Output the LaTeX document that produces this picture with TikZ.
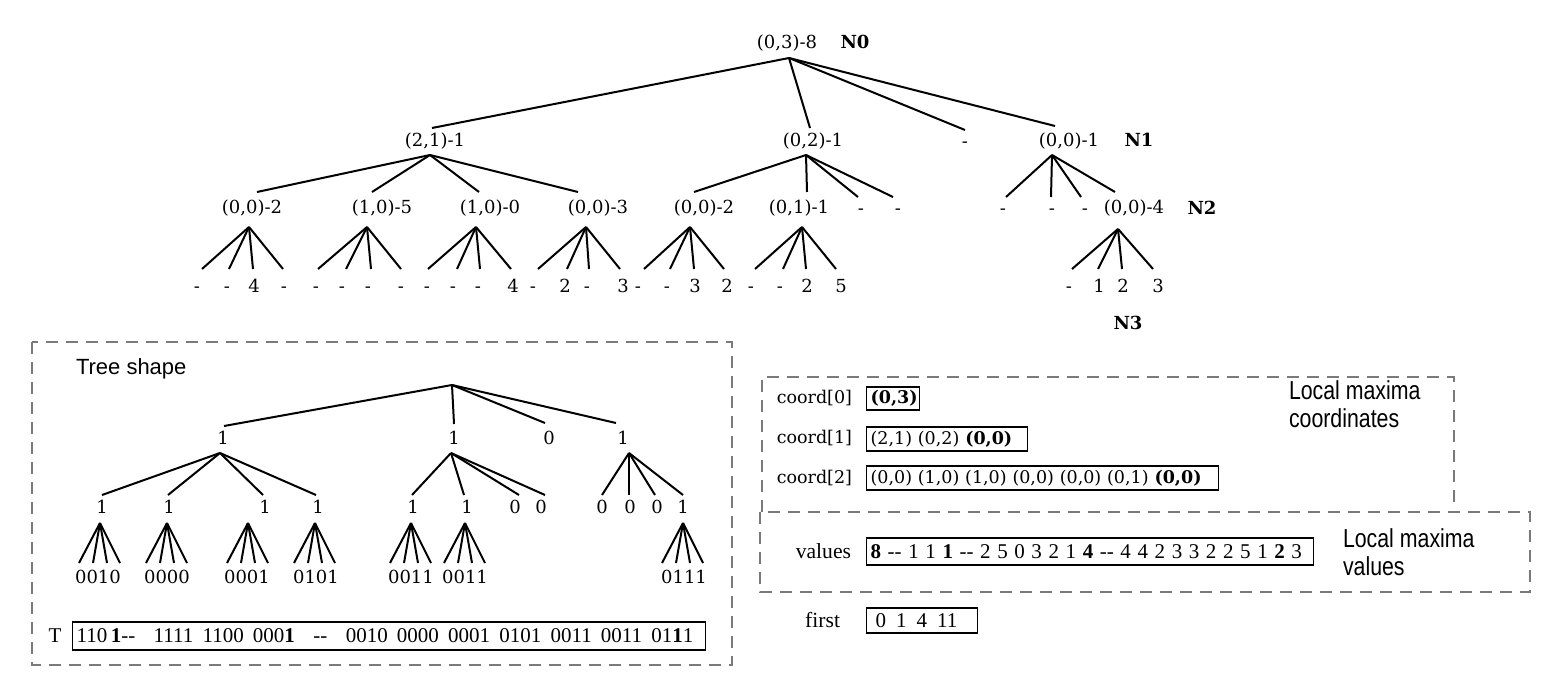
\documentclass[tikz,border=0pt]{standalone}
\usepackage{fontspec}
\setmainfont{DejaVu Serif}
\newfontfamily\tms{Liberation Serif}
\newfontfamily\sns{Liberation Sans}
\newfontfamily\snsn[FakeStretch=0.82]{Liberation Sans}
\definecolor{dashgray}{HTML}{7A7A7A}
\begin{document}
\begin{tikzpicture}[x=0.5pt,y=-0.5pt,line width=1pt,
  lbl/.style={font=\fontsize{9}{10}\selectfont,inner sep=0pt,anchor=base},
  nlbl/.style={font=\fontsize{9}{10}\selectfont\bfseries,inner sep=0pt,anchor=base},
  dbox/.style={draw=dashgray,dash pattern=on 6pt off 4pt,line width=0.7pt},
  sbox/.style={draw,line width=0.6pt,inner xsep=2pt,inner ysep=0pt,anchor=west,align=left},
  rlbl/.style={font=\fontsize{8.75}{10}\selectfont,inner sep=0pt,anchor=east},
  ttl/.style={font=\sns\fontsize{11}{14}\selectfont,inner sep=0pt,anchor=west,align=left},
  ttn/.style={font=\snsn\fontsize{13}{14}\selectfont,inner sep=0pt,anchor=west,align=left}]
\useasboundingbox (0,0) rectangle (1566,690);

%% ---------------- top tree ----------------
\node[lbl] (R) at (787,49) {(0,3)-8};
\node[nlbl] (N0) at (855,49) {N0};
\coordinate (Ra) at (789,58);

\node[lbl] (A) at (435,146) {(2,1)-1};
\node[lbl] (B) at (813,146) {(0,2)-1};
\node[lbl] (C) at (965,147) {-};
\node[lbl] (D) at (1069,146) {(0,0)-1};
\node[nlbl] (N1) at (1139,146) {N1};
\coordinate (At) at (432,128);
\coordinate (Bt) at (810,128);
\coordinate (Ct) at (965,130);
\coordinate (Dt) at (1055,126);
\foreach \c in {A,B,C,D} \draw (Ra) -- (\c t);
\coordinate (Aa) at (430,155);
\coordinate (Ba) at (806,155);
\coordinate (Da) at (1052,155);

% level 2
\foreach \n/\lx/\tx/\ax/\t in {A1/252/257/249/{(0,0)-2},A2/382/372/367/{(1,0)-5},A3/490/479/476/{(1,0)-0},A4/598/578/586/{(0,0)-3}}{
  \node[lbl] (\n) at (\lx,213) {\t};
  \coordinate (\n t) at (\tx,192);
  \coordinate (\n a) at (\ax,227);
  \draw (Aa) -- (\n t);
}
\foreach \n/\lx/\tx/\ax/\t in {B1/704/694/690/{(0,0)-2},B2/799/807/802/{(0,1)-1}}{
  \node[lbl] (\n) at (\lx,213) {\t};
  \coordinate (\n t) at (\tx,192);
  \coordinate (\n a) at (\ax,227);
  \draw (Ba) -- (\n t);
}
\foreach \n/\lx/\tx in {B3/861/858,B4/898/893}{
  \node[lbl] (\n) at (\lx,214) {-};
  \coordinate (\n t) at (\tx,197);
  \draw (Ba) -- (\n t);
}
\foreach \n/\lx/\tx in {D1/1003/1006,D2/1052/1051,D3/1085/1081}{
  \node[lbl] (\n) at (\lx,214) {-};
  \coordinate (\n t) at (\tx,197);
  \draw (Da) -- (\n t);
}
\node[lbl] (D4) at (1134,213) {(0,0)-4};
\coordinate (D4t) at (1115,192);
\coordinate (D4a) at (1118,229);
\draw (Da) -- (D4t);
\node[nlbl] (N2) at (1202,214) {N2};

% leaves
\foreach \p/\la/\lb/\lc/\ld/\ea/\eb/\ec/\ed/\ta/\tb/\tc/\td in {
  A1/197/227/254/284/202/229/253/283/-/-/4/-,
  A2/316/342/368/401/318/346/371/401/-/-/-/-,
  A3/427/453/478/513/428/457/480/511/-/-/-/4,
  A4/533/565/587/623/538/567/589/620/-/2/-/3,
  B1/638/667/695/727/644/670/694/724/-/-/3/2,
  B2/751/780/807/841/755/783/806/836/-/-/2/5,
  D4/1069/1099/1123/1158/1072/1098/1122/1153/-/1/2/3}{
  \node[lbl] (\p l1) at (\la,292) {\ta};
  \node[lbl] (\p l2) at (\lb,292) {\tb};
  \node[lbl] (\p l3) at (\lc,292) {\tc};
  \node[lbl] (\p l4) at (\ld,292) {\td};
  \coordinate (\p e1) at (\ea,269);
  \coordinate (\p e2) at (\eb,269);
  \coordinate (\p e3) at (\ec,269);
  \coordinate (\p e4) at (\ed,269);
  \foreach \k in {1,2,3,4} \draw (\p a) -- (\p e\k);
}
\node[nlbl] (N3) at (1128,329) {N3};

%% ---------------- tree shape box ----------------
\draw[dbox] (32,342) rectangle (732,665);
\node[ttl] (TS) at (75,369) {Tree shape};
\coordinate (Sa) at (452,385);
\foreach \n/\lx/\tx/\ty/\t in {S1/223/224/426/1,S2/454/454/424/1,S3/549/545/423/0,S4/623/616/423/1}{
  \node[lbl] (\n) at (\lx,444) {\t};
  \coordinate (\n t) at (\tx,\ty);
  \draw (Sa) -- (\n t);
}
\coordinate (S1a) at (220,453);
\coordinate (S2a) at (451,453);
\coordinate (S4a) at (629,453);
\foreach \pa/\n/\lx/\tx/\t in {S1/S11/102/102/1,S1/S12/169/168/1,S1/S13/265/263/1,S1/S14/318/316/1,
  S2/S21/413/412/1,S2/S22/467/464/1,S2/S23/515/519/0,S2/S24/541/545/0,
  S4/S41/602/602/0,S4/S42/630/629/0,S4/S43/657/655/0,S4/S44/683/683/1}{
  \node[lbl] (\n) at (\lx,513) {\t};
  \coordinate (\n t) at (\tx,495);
  \draw (\pa a) -- (\n t);
}
\foreach \n/\ax/\lx/\t in {S11/100/98/0010,S12/167/167/0000,S13/248/247/0001,S14/315/316/0101,
  S21/411/411/0011,S22/465/465/0011,S44/683/684/0111}{
  \coordinate (\n a) at (\ax,523);
  \node[lbl] (\n L) at (\lx,583) {\t};
  \foreach \d in {-21,-7,7,20} \draw (\n a) -- ++(\d,40);
}
\node[font=\tms\fontsize{10.5}{12}\selectfont,inner sep=0pt] (Tl) at (55,636) {T};
\node[sbox,minimum height=14pt,text width=312.5pt,font=\tms\fontsize{10.5}{12}\selectfont] (Tb) at (72,636)
  {\mbox{\spaceskip=4.6pt\relax 110\,\textbf{1}-{}-\ \ 1111 1100 000\textbf{1}\ \ -{}-\ \ 0010 0000 0001 0101 0011 0011 01\textbf{1}1}};

%% ---------------- right boxes ----------------
\draw[dbox] (762,512) -- (762,377) -- (1454,377) -- (1454,505);
\draw[dbox] (760,512) rectangle (1530,592);
\node[rlbl] (c0) at (853,398) {coord[0]};
\node[rlbl] (c1) at (853,438) {coord[1]};
\node[rlbl] (c2) at (853,478) {coord[2]};
\node[sbox,minimum height=11.5pt,text width=22.5pt,font=\fontsize{8.75}{10}\selectfont] (c0b) at (866,398.5) {\textbf{(0,3)}};
\node[sbox,minimum height=12pt,text width=76.5pt,font=\fontsize{8.75}{10}\selectfont] (c1b) at (866,439) {(2,1) (0,2) \textbf{(0,0)}};
\node[sbox,minimum height=12pt,text width=172pt,font=\fontsize{8.75}{10}\selectfont] (c2b) at (866,478) {(0,0) (1,0) (1,0) (0,0) (0,0) (0,1) \textbf{(0,0)}};
\node[ttn] (LMC) at (1288,404) {Local maxima\\coordinates};

\node[font=\tms\fontsize{10.8}{12}\selectfont,inner sep=0pt,anchor=east] (vl) at (852,551) {values};
\node[sbox,minimum height=13.5pt,text width=219.5pt,font=\tms\fontsize{10.5}{12}\selectfont] (vb) at (866,551.5)
  {\mbox{\spaceskip=3.3pt\relax \textbf{8} -{}- 1 1 \textbf{1} -{}- 2 5 0 3 2 1 \textbf{4} -{}- 4 4 2 3 3 2 2 5 1 \textbf{2} 3}};
\node[ttn] (LMV) at (1342,552) {Local maxima\\values};

\node[font=\tms\fontsize{10.8}{12}\selectfont,inner sep=0pt,anchor=east] (fl) at (841,620) {first};
\node[sbox,minimum height=12.5pt,text width=51.5pt,font=\tms\fontsize{10.5}{12}\selectfont] (fb) at (866,620.5)
  {\mbox{\spaceskip=5pt\relax\hspace*{2.5pt}0 1 4 11}};
\end{tikzpicture}
\end{document}
